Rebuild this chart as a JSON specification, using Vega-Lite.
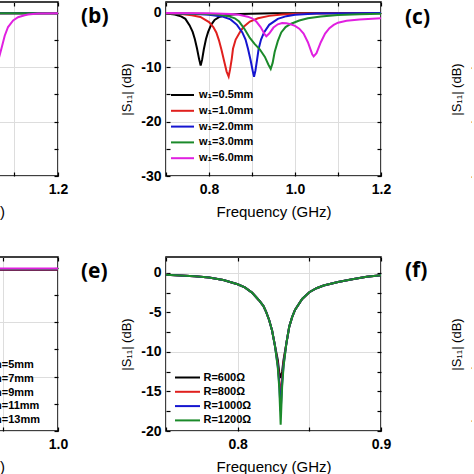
{
"$schema": "https://vega.github.io/schema/vega-lite/v6.json",
"autosize": {"type": "pad"},
"padding": {"left": -175, "top": 0, "right": -38, "bottom": 0},
"background": "white",
"bounds": "flush",
"align": "each",
"center": false,
"columns": 3,
"spacing": {"row": 81, "column": 108},
"resolve": {"scale": {"color": "independent"}, "legend": {"color": "independent"}},
"config": {
  "view": {"stroke": "black", "strokeWidth": 1.5},
  "axis": {"domain": false, "labelFont": "Liberation Sans", "labelFontSize": 14, "labelFontWeight": "bold", "labelColor": "#000", "titleFont": "Liberation Sans", "titleFontWeight": "normal", "titleColor": "#000", "titleFontSize": 15, "tickColor": "#000", "tickWidth": 1.2, "gridColor": "#dddddd", "gridWidth": 1, "labelOverlap": false, "labelFlush": false, "labelBound": false},
  "legend": {"labelFont": "Liberation Sans", "labelFontSize": 11, "labelFontWeight": "bold", "labelColor": "#000", "symbolStrokeWidth": 2, "padding": 0},
  "title": {"font": "Open Sans", "fontSize": 21, "fontWeight": "bold", "color": "#000"}
},
"datasets": {
  "empty": [],
  "a": [
    {"k": "s1", "f": 1.064, "s": -0.05}, {"k": "s1", "f": 1.2, "s": -0.05},
    {"k": "s2", "f": 1.064, "s": -0.05}, {"k": "s2", "f": 1.2, "s": -0.05},
    {"k": "s3", "f": 1.064, "s": -0.05}, {"k": "s3", "f": 1.2, "s": -0.05},
    {"k": "s4", "f": 1.064, "s": -0.05}, {"k": "s4", "f": 1.2, "s": -0.05},
    {"k": "s5", "f": 1.064, "s": -9.2}, {"k": "s5", "f": 1.0725, "s": -6.6}, {"k": "s5", "f": 1.08, "s": -4.2}, {"k": "s5", "f": 1.0875, "s": -2.6}, {"k": "s5", "f": 1.099, "s": -1.4}, {"k": "s5", "f": 1.11, "s": -0.8}, {"k": "s5", "f": 1.125, "s": -0.45}, {"k": "s5", "f": 1.1325, "s": -0.3}, {"k": "s5", "f": 1.155, "s": -0.12}, {"k": "s5", "f": 1.2, "s": -0.05}
  ],
  "b": [
    {"k": "w₁=0.5mm", "f": 0.7, "s": -0.1}, {"k": "w₁=0.5mm", "f": 0.72, "s": -0.3}, {"k": "w₁=0.5mm", "f": 0.735, "s": -0.65}, {"k": "w₁=0.5mm", "f": 0.745, "s": -1.1}, {"k": "w₁=0.5mm", "f": 0.755, "s": -2.3}, {"k": "w₁=0.5mm", "f": 0.762, "s": -3.5}, {"k": "w₁=0.5mm", "f": 0.767, "s": -4.8}, {"k": "w₁=0.5mm", "f": 0.772, "s": -6.5}, {"k": "w₁=0.5mm", "f": 0.777, "s": -8.5}, {"k": "w₁=0.5mm", "f": 0.7806, "s": -9.7}, {"k": "w₁=0.5mm", "f": 0.784, "s": -8.6}, {"k": "w₁=0.5mm", "f": 0.788, "s": -6.7}, {"k": "w₁=0.5mm", "f": 0.793, "s": -4.8}, {"k": "w₁=0.5mm", "f": 0.798, "s": -3.5}, {"k": "w₁=0.5mm", "f": 0.805, "s": -2.2}, {"k": "w₁=0.5mm", "f": 0.813, "s": -1.3}, {"k": "w₁=0.5mm", "f": 0.825, "s": -0.7}, {"k": "w₁=0.5mm", "f": 0.84, "s": -0.4}, {"k": "w₁=0.5mm", "f": 0.87, "s": -0.2}, {"k": "w₁=0.5mm", "f": 0.95, "s": -0.08}, {"k": "w₁=0.5mm", "f": 1.2, "s": 0},
    {"k": "w₁=1.0mm", "f": 0.7, "s": -0.1}, {"k": "w₁=1.0mm", "f": 0.74, "s": -0.25}, {"k": "w₁=1.0mm", "f": 0.76, "s": -0.45}, {"k": "w₁=1.0mm", "f": 0.78, "s": -0.75}, {"k": "w₁=1.0mm", "f": 0.8, "s": -1.7}, {"k": "w₁=1.0mm", "f": 0.81, "s": -2.6}, {"k": "w₁=1.0mm", "f": 0.817, "s": -3.6}, {"k": "w₁=1.0mm", "f": 0.823, "s": -5.0}, {"k": "w₁=1.0mm", "f": 0.829, "s": -6.8}, {"k": "w₁=1.0mm", "f": 0.835, "s": -8.8}, {"k": "w₁=1.0mm", "f": 0.841, "s": -10.8}, {"k": "w₁=1.0mm", "f": 0.8457, "s": -11.7}, {"k": "w₁=1.0mm", "f": 0.849, "s": -10.4}, {"k": "w₁=1.0mm", "f": 0.853, "s": -8.4}, {"k": "w₁=1.0mm", "f": 0.8558, "s": -6.6}, {"k": "w₁=1.0mm", "f": 0.862, "s": -4.9}, {"k": "w₁=1.0mm", "f": 0.8714, "s": -3.6}, {"k": "w₁=1.0mm", "f": 0.88, "s": -2.6}, {"k": "w₁=1.0mm", "f": 0.895, "s": -1.6}, {"k": "w₁=1.0mm", "f": 0.914, "s": -1.0}, {"k": "w₁=1.0mm", "f": 0.94, "s": -0.55}, {"k": "w₁=1.0mm", "f": 0.97, "s": -0.3}, {"k": "w₁=1.0mm", "f": 1.02, "s": -0.12}, {"k": "w₁=1.0mm", "f": 1.2, "s": 0},
    {"k": "w₁=2.0mm", "f": 0.7, "s": -0.05}, {"k": "w₁=2.0mm", "f": 0.76, "s": -0.15}, {"k": "w₁=2.0mm", "f": 0.8, "s": -0.35}, {"k": "w₁=2.0mm", "f": 0.83, "s": -0.65}, {"k": "w₁=2.0mm", "f": 0.85, "s": -1.2}, {"k": "w₁=2.0mm", "f": 0.865, "s": -2.2}, {"k": "w₁=2.0mm", "f": 0.8775, "s": -3.6}, {"k": "w₁=2.0mm", "f": 0.885, "s": -4.9}, {"k": "w₁=2.0mm", "f": 0.8907, "s": -6.6}, {"k": "w₁=2.0mm", "f": 0.897, "s": -8.8}, {"k": "w₁=2.0mm", "f": 0.902, "s": -10.8}, {"k": "w₁=2.0mm", "f": 0.9047, "s": -11.75}, {"k": "w₁=2.0mm", "f": 0.908, "s": -10.6}, {"k": "w₁=2.0mm", "f": 0.912, "s": -8.5}, {"k": "w₁=2.0mm", "f": 0.9155, "s": -6.6}, {"k": "w₁=2.0mm", "f": 0.921, "s": -4.9}, {"k": "w₁=2.0mm", "f": 0.928, "s": -3.6}, {"k": "w₁=2.0mm", "f": 0.94, "s": -2.2}, {"k": "w₁=2.0mm", "f": 0.96, "s": -1.1}, {"k": "w₁=2.0mm", "f": 0.98, "s": -0.6}, {"k": "w₁=2.0mm", "f": 1.0, "s": -0.35}, {"k": "w₁=2.0mm", "f": 1.05, "s": -0.12}, {"k": "w₁=2.0mm", "f": 1.2, "s": 0},
    {"k": "w₁=3.0mm", "f": 0.7, "s": -0.05}, {"k": "w₁=3.0mm", "f": 0.78, "s": -0.15}, {"k": "w₁=3.0mm", "f": 0.82, "s": -0.3}, {"k": "w₁=3.0mm", "f": 0.845, "s": -0.6}, {"k": "w₁=3.0mm", "f": 0.86, "s": -1.0}, {"k": "w₁=3.0mm", "f": 0.87, "s": -1.6}, {"k": "w₁=3.0mm", "f": 0.883, "s": -3.0}, {"k": "w₁=3.0mm", "f": 0.895, "s": -4.6}, {"k": "w₁=3.0mm", "f": 0.906, "s": -5.7}, {"k": "w₁=3.0mm", "f": 0.918, "s": -6.7}, {"k": "w₁=3.0mm", "f": 0.93, "s": -8.1}, {"k": "w₁=3.0mm", "f": 0.938, "s": -9.5}, {"k": "w₁=3.0mm", "f": 0.9435, "s": -10.3}, {"k": "w₁=3.0mm", "f": 0.948, "s": -9.2}, {"k": "w₁=3.0mm", "f": 0.9527, "s": -7.2}, {"k": "w₁=3.0mm", "f": 0.96, "s": -5.2}, {"k": "w₁=3.0mm", "f": 0.968, "s": -3.6}, {"k": "w₁=3.0mm", "f": 0.978, "s": -2.6}, {"k": "w₁=3.0mm", "f": 0.991, "s": -2.0}, {"k": "w₁=3.0mm", "f": 1.01, "s": -1.4}, {"k": "w₁=3.0mm", "f": 1.03, "s": -1.0}, {"k": "w₁=3.0mm", "f": 1.06, "s": -0.65}, {"k": "w₁=3.0mm", "f": 1.1, "s": -0.4}, {"k": "w₁=3.0mm", "f": 1.15, "s": -0.25}, {"k": "w₁=3.0mm", "f": 1.2, "s": -0.15},
    {"k": "w₁=6.0mm", "f": 0.7, "s": -0.02}, {"k": "w₁=6.0mm", "f": 0.8, "s": -0.05}, {"k": "w₁=6.0mm", "f": 0.85, "s": -0.2}, {"k": "w₁=6.0mm", "f": 0.87, "s": -0.35}, {"k": "w₁=6.0mm", "f": 0.89, "s": -0.7}, {"k": "w₁=6.0mm", "f": 0.9, "s": -1.0}, {"k": "w₁=6.0mm", "f": 0.91, "s": -1.6}, {"k": "w₁=6.0mm", "f": 0.92, "s": -2.6}, {"k": "w₁=6.0mm", "f": 0.93, "s": -4.0}, {"k": "w₁=6.0mm", "f": 0.9333, "s": -4.3}, {"k": "w₁=6.0mm", "f": 0.94, "s": -3.8}, {"k": "w₁=6.0mm", "f": 0.95, "s": -2.7}, {"k": "w₁=6.0mm", "f": 0.96, "s": -2.1}, {"k": "w₁=6.0mm", "f": 0.97, "s": -1.85}, {"k": "w₁=6.0mm", "f": 0.98, "s": -1.9}, {"k": "w₁=6.0mm", "f": 0.99, "s": -2.1}, {"k": "w₁=6.0mm", "f": 1.0, "s": -2.4}, {"k": "w₁=6.0mm", "f": 1.01, "s": -2.9}, {"k": "w₁=6.0mm", "f": 1.02, "s": -3.8}, {"k": "w₁=6.0mm", "f": 1.03, "s": -5.4}, {"k": "w₁=6.0mm", "f": 1.04, "s": -7.6}, {"k": "w₁=6.0mm", "f": 1.0434, "s": -8.0}, {"k": "w₁=6.0mm", "f": 1.05, "s": -7.4}, {"k": "w₁=6.0mm", "f": 1.06, "s": -5.4}, {"k": "w₁=6.0mm", "f": 1.07, "s": -3.8}, {"k": "w₁=6.0mm", "f": 1.08, "s": -2.8}, {"k": "w₁=6.0mm", "f": 1.09, "s": -2.2}, {"k": "w₁=6.0mm", "f": 1.1, "s": -1.8}, {"k": "w₁=6.0mm", "f": 1.12, "s": -1.45}, {"k": "w₁=6.0mm", "f": 1.15, "s": -1.2}, {"k": "w₁=6.0mm", "f": 1.2, "s": -1.0}
  ],
  "d": [
    {"k": "n=5mm", "f": 0.88, "s": -0.35}, {"k": "n=5mm", "f": 1.0, "s": -0.35},
    {"k": "n=7mm", "f": 0.88, "s": -0.3}, {"k": "n=7mm", "f": 1.0, "s": -0.3},
    {"k": "n=9mm", "f": 0.88, "s": -0.25}, {"k": "n=9mm", "f": 1.0, "s": -0.25},
    {"k": "n=11mm", "f": 0.88, "s": -0.2}, {"k": "n=11mm", "f": 1.0, "s": -0.2},
    {"k": "n=13mm", "f": 0.88, "s": -0.1}, {"k": "n=13mm", "f": 1.0, "s": -0.1}
  ],
  "e": [
    {"k": "R=600Ω", "f": 0.75, "s": -0.25}, {"k": "R=600Ω", "f": 0.76, "s": -0.33}, {"k": "R=600Ω", "f": 0.77, "s": -0.42}, {"k": "R=600Ω", "f": 0.78, "s": -0.6}, {"k": "R=600Ω", "f": 0.79, "s": -0.9}, {"k": "R=600Ω", "f": 0.8, "s": -1.45}, {"k": "R=600Ω", "f": 0.805, "s": -1.85}, {"k": "R=600Ω", "f": 0.81, "s": -2.5}, {"k": "R=600Ω", "f": 0.815, "s": -3.5}, {"k": "R=600Ω", "f": 0.818, "s": -4.2}, {"k": "R=600Ω", "f": 0.82, "s": -5.0}, {"k": "R=600Ω", "f": 0.822, "s": -6.0}, {"k": "R=600Ω", "f": 0.824, "s": -7.3}, {"k": "R=600Ω", "f": 0.826, "s": -9.2}, {"k": "R=600Ω", "f": 0.828, "s": -11.0}, {"k": "R=600Ω", "f": 0.829, "s": -12.6}, {"k": "R=600Ω", "f": 0.83, "s": -13.3}, {"k": "R=600Ω", "f": 0.831, "s": -12.5}, {"k": "R=600Ω", "f": 0.832, "s": -11.0}, {"k": "R=600Ω", "f": 0.834, "s": -8.9}, {"k": "R=600Ω", "f": 0.836, "s": -6.8}, {"k": "R=600Ω", "f": 0.838, "s": -5.6}, {"k": "R=600Ω", "f": 0.84, "s": -4.7}, {"k": "R=600Ω", "f": 0.845, "s": -3.3}, {"k": "R=600Ω", "f": 0.85, "s": -2.45}, {"k": "R=600Ω", "f": 0.855, "s": -1.95}, {"k": "R=600Ω", "f": 0.86, "s": -1.6}, {"k": "R=600Ω", "f": 0.87, "s": -1.15}, {"k": "R=600Ω", "f": 0.88, "s": -0.8}, {"k": "R=600Ω", "f": 0.89, "s": -0.5}, {"k": "R=600Ω", "f": 0.9, "s": -0.3},
    {"k": "R=800Ω", "f": 0.75, "s": -0.25}, {"k": "R=800Ω", "f": 0.76, "s": -0.33}, {"k": "R=800Ω", "f": 0.77, "s": -0.42}, {"k": "R=800Ω", "f": 0.78, "s": -0.6}, {"k": "R=800Ω", "f": 0.79, "s": -0.9}, {"k": "R=800Ω", "f": 0.8, "s": -1.45}, {"k": "R=800Ω", "f": 0.805, "s": -1.85}, {"k": "R=800Ω", "f": 0.81, "s": -2.5}, {"k": "R=800Ω", "f": 0.815, "s": -3.5}, {"k": "R=800Ω", "f": 0.818, "s": -4.2}, {"k": "R=800Ω", "f": 0.82, "s": -5.0}, {"k": "R=800Ω", "f": 0.822, "s": -6.0}, {"k": "R=800Ω", "f": 0.824, "s": -7.3}, {"k": "R=800Ω", "f": 0.826, "s": -9.2}, {"k": "R=800Ω", "f": 0.828, "s": -11.5}, {"k": "R=800Ω", "f": 0.829, "s": -13.5}, {"k": "R=800Ω", "f": 0.83, "s": -15.5}, {"k": "R=800Ω", "f": 0.831, "s": -13.5}, {"k": "R=800Ω", "f": 0.832, "s": -11.4}, {"k": "R=800Ω", "f": 0.834, "s": -8.9}, {"k": "R=800Ω", "f": 0.836, "s": -6.8}, {"k": "R=800Ω", "f": 0.838, "s": -5.6}, {"k": "R=800Ω", "f": 0.84, "s": -4.7}, {"k": "R=800Ω", "f": 0.845, "s": -3.3}, {"k": "R=800Ω", "f": 0.85, "s": -2.45}, {"k": "R=800Ω", "f": 0.855, "s": -1.95}, {"k": "R=800Ω", "f": 0.86, "s": -1.6}, {"k": "R=800Ω", "f": 0.87, "s": -1.15}, {"k": "R=800Ω", "f": 0.88, "s": -0.8}, {"k": "R=800Ω", "f": 0.89, "s": -0.5}, {"k": "R=800Ω", "f": 0.9, "s": -0.3},
    {"k": "R=1000Ω", "f": 0.75, "s": -0.25}, {"k": "R=1000Ω", "f": 0.76, "s": -0.33}, {"k": "R=1000Ω", "f": 0.77, "s": -0.42}, {"k": "R=1000Ω", "f": 0.78, "s": -0.6}, {"k": "R=1000Ω", "f": 0.79, "s": -0.9}, {"k": "R=1000Ω", "f": 0.8, "s": -1.45}, {"k": "R=1000Ω", "f": 0.805, "s": -1.85}, {"k": "R=1000Ω", "f": 0.81, "s": -2.5}, {"k": "R=1000Ω", "f": 0.815, "s": -3.5}, {"k": "R=1000Ω", "f": 0.818, "s": -4.2}, {"k": "R=1000Ω", "f": 0.82, "s": -5.0}, {"k": "R=1000Ω", "f": 0.822, "s": -6.0}, {"k": "R=1000Ω", "f": 0.824, "s": -7.3}, {"k": "R=1000Ω", "f": 0.826, "s": -9.2}, {"k": "R=1000Ω", "f": 0.828, "s": -11.8}, {"k": "R=1000Ω", "f": 0.829, "s": -14.0}, {"k": "R=1000Ω", "f": 0.83, "s": -17.5}, {"k": "R=1000Ω", "f": 0.831, "s": -14.0}, {"k": "R=1000Ω", "f": 0.832, "s": -11.7}, {"k": "R=1000Ω", "f": 0.834, "s": -8.9}, {"k": "R=1000Ω", "f": 0.836, "s": -6.8}, {"k": "R=1000Ω", "f": 0.838, "s": -5.6}, {"k": "R=1000Ω", "f": 0.84, "s": -4.7}, {"k": "R=1000Ω", "f": 0.845, "s": -3.3}, {"k": "R=1000Ω", "f": 0.85, "s": -2.45}, {"k": "R=1000Ω", "f": 0.855, "s": -1.95}, {"k": "R=1000Ω", "f": 0.86, "s": -1.6}, {"k": "R=1000Ω", "f": 0.87, "s": -1.15}, {"k": "R=1000Ω", "f": 0.88, "s": -0.8}, {"k": "R=1000Ω", "f": 0.89, "s": -0.5}, {"k": "R=1000Ω", "f": 0.9, "s": -0.3},
    {"k": "R=1200Ω", "f": 0.75, "s": -0.25}, {"k": "R=1200Ω", "f": 0.76, "s": -0.33}, {"k": "R=1200Ω", "f": 0.77, "s": -0.42}, {"k": "R=1200Ω", "f": 0.78, "s": -0.6}, {"k": "R=1200Ω", "f": 0.79, "s": -0.9}, {"k": "R=1200Ω", "f": 0.8, "s": -1.45}, {"k": "R=1200Ω", "f": 0.805, "s": -1.85}, {"k": "R=1200Ω", "f": 0.81, "s": -2.5}, {"k": "R=1200Ω", "f": 0.815, "s": -3.5}, {"k": "R=1200Ω", "f": 0.818, "s": -4.2}, {"k": "R=1200Ω", "f": 0.82, "s": -5.0}, {"k": "R=1200Ω", "f": 0.822, "s": -6.0}, {"k": "R=1200Ω", "f": 0.824, "s": -7.3}, {"k": "R=1200Ω", "f": 0.826, "s": -9.2}, {"k": "R=1200Ω", "f": 0.828, "s": -12.0}, {"k": "R=1200Ω", "f": 0.829, "s": -14.5}, {"k": "R=1200Ω", "f": 0.83, "s": -19.2}, {"k": "R=1200Ω", "f": 0.831, "s": -14.5}, {"k": "R=1200Ω", "f": 0.832, "s": -11.9}, {"k": "R=1200Ω", "f": 0.834, "s": -8.9}, {"k": "R=1200Ω", "f": 0.836, "s": -6.8}, {"k": "R=1200Ω", "f": 0.838, "s": -5.6}, {"k": "R=1200Ω", "f": 0.84, "s": -4.7}, {"k": "R=1200Ω", "f": 0.845, "s": -3.3}, {"k": "R=1200Ω", "f": 0.85, "s": -2.45}, {"k": "R=1200Ω", "f": 0.855, "s": -1.95}, {"k": "R=1200Ω", "f": 0.86, "s": -1.6}, {"k": "R=1200Ω", "f": 0.87, "s": -1.15}, {"k": "R=1200Ω", "f": 0.88, "s": -0.8}, {"k": "R=1200Ω", "f": 0.89, "s": -0.5}, {"k": "R=1200Ω", "f": 0.9, "s": -0.3}
  ]
},
"concat": [
  {
    "width": 222, "height": 174,
    "resolve": {"axis": {"x": "independent", "y": "independent"}},
    "layer": [
      {"data": {"name": "a"}, "mark": {"type": "line", "strokeWidth": 2, "clip": true},
       "encoding": {
         "x": {"field": "f", "type": "quantitative", "scale": {"domain": [0.7, 1.2], "nice": false, "zero": false},
               "axis": {"orient": "bottom", "values": [0.7, 0.8, 0.9, 1.0, 1.1, 1.2], "ticks": false, "grid": true, "labelExpr": "indexof([0.8, 1, 1.2], datum.value) >= 0 ? format(datum.value, '.1f') : ''", "labelPadding": 6, "title": "Frequency (GHz)", "titlePadding": 8}},
         "y": {"field": "s", "type": "quantitative", "scale": {"domain": [-30, 2], "nice": false, "zero": false},
               "axis": {"orient": "left", "values": [0, -10, -20, -30], "ticks": false, "grid": true, "labels": false, "title": null}},
         "color": {"field": "k", "type": "nominal", "scale": {"domain": ["s1", "s2", "s3", "s4", "s5"], "range": ["#000000", "#e0201e", "#1515d0", "#1b8a2a", "#e020e0"]}, "legend": null}
       }},
      {"data": {"name": "empty"}, "mark": "line",
       "encoding": {
         "x": {"field": "f", "type": "quantitative", "axis": {"orient": "top", "values": [0.7, 0.8, 0.9, 1.0, 1.1, 1.2], "labels": false, "ticks": true, "tickSize": -4, "grid": false, "title": null}},
         "y": {"field": "s", "type": "quantitative", "axis": {"orient": "right", "values": [0, -5, -10, -15, -20, -25, -30], "labels": false, "ticks": true, "tickSize": -4, "grid": false, "title": null}}
       }},
      {"data": {"name": "empty"}, "mark": "line",
       "encoding": {
         "x": {"field": "f", "type": "quantitative", "axis": {"orient": "bottom", "values": [0.7, 0.8, 0.9, 1.0, 1.1, 1.2], "labels": false, "ticks": true, "tickSize": -4, "grid": false, "title": null}},
         "y": {"field": "s", "type": "quantitative", "axis": {"orient": "left", "values": [0, -5, -10, -15, -20, -25, -30], "labels": false, "ticks": true, "tickSize": -4, "grid": false, "title": null}}
       }}
    ]
  },
  {
    "width": 215, "height": 174,
    "title": {"text": "(b)", "anchor": "start", "frame": "group", "orient": "top", "offset": 0, "baseline": "top", "dx": -85, "dy": 26},
    "resolve": {"axis": {"x": "independent", "y": "independent"}},
    "layer": [
      {"data": {"name": "b"}, "mark": {"type": "line", "strokeWidth": 2, "clip": true},
       "encoding": {
         "x": {"field": "f", "type": "quantitative", "scale": {"domain": [0.7, 1.2], "nice": false, "zero": false},
               "axis": {"orient": "bottom", "values": [0.7, 0.8, 0.9, 1.0, 1.1, 1.2], "ticks": false, "grid": true, "labelExpr": "indexof([0.8, 1, 1.2], datum.value) >= 0 ? format(datum.value, '.1f') : ''", "labelPadding": 6, "title": "Frequency (GHz)", "titlePadding": 8}},
         "y": {"field": "s", "type": "quantitative", "scale": {"domain": [-30, 2], "nice": false, "zero": false},
               "axis": {"orient": "left", "values": [0, -10, -20, -30], "ticks": false, "grid": true, "labelExpr": "datum.value == 0 ? '0' : '-' + abs(datum.value)", "labelPadding": 5, "title": "|S₁₁| (dB)", "titleFontSize": 13, "titlePadding": 7}},
         "color": {"field": "k", "type": "nominal", "scale": {"domain": ["w₁=0.5mm", "w₁=1.0mm", "w₁=2.0mm", "w₁=3.0mm", "w₁=6.0mm"], "range": ["#000000", "#e0201e", "#1515d0", "#1b8a2a", "#e020e0"]},
                   "legend": {"title": null, "orient": "none", "legendX": 10.5, "legendY": 87, "direction": "vertical", "symbolType": "M-2.3,0H2.3", "symbolSize": 100, "labelOffset": 10.5, "rowPadding": 4.8}}
       }},
      {"data": {"name": "empty"}, "mark": "line",
       "encoding": {
         "x": {"field": "f", "type": "quantitative", "axis": {"orient": "top", "values": [0.7, 0.8, 0.9, 1.0, 1.1, 1.2], "labels": false, "ticks": true, "tickSize": -4, "grid": false, "title": null}},
         "y": {"field": "s", "type": "quantitative", "axis": {"orient": "right", "values": [0, -5, -10, -15, -20, -25, -30], "labels": false, "ticks": true, "tickSize": -4, "grid": false, "title": null}}
       }},
      {"data": {"name": "empty"}, "mark": "line",
       "encoding": {
         "x": {"field": "f", "type": "quantitative", "axis": {"orient": "bottom", "values": [0.7, 0.8, 0.9, 1.0, 1.1, 1.2], "labels": false, "ticks": true, "tickSize": -4, "grid": false, "title": null}},
         "y": {"field": "s", "type": "quantitative", "axis": {"orient": "left", "values": [0, -5, -10, -15, -20, -25, -30], "labels": false, "ticks": true, "tickSize": -4, "grid": false, "title": null}}
       }}
    ]
  },
  {
    "width": 20, "height": 174,
    "title": {"text": "(c)", "anchor": "start", "frame": "group", "orient": "top", "offset": 0, "baseline": "top", "dx": -84, "dy": 26},
    "data": {"name": "empty"},
    "mark": "line",
    "encoding": {
      "x": {"field": "f", "type": "quantitative", "scale": {"domain": [0.7, 1.2], "nice": false, "zero": false}, "axis": null},
      "y": {"field": "s", "type": "quantitative", "scale": {"domain": [-30, 2], "nice": false, "zero": false},
            "axis": {"orient": "left", "offset": -7, "values": [0, -10, -20, -30], "ticks": false, "grid": false, "labelExpr": "datum.value == 0 ? '0' : '-' + abs(datum.value)", "labelPadding": 5, "title": "|S₁₁| (dB)", "titleFontSize": 13, "titlePadding": 7}}
    }
  },
  {
    "width": 222, "height": 174,
    "resolve": {"axis": {"x": "independent", "y": "independent"}},
    "layer": [
      {"data": {"name": "d"}, "mark": {"type": "line", "strokeWidth": 2, "clip": true},
       "encoding": {
         "x": {"field": "f", "type": "quantitative", "scale": {"domain": [0.6, 1.0], "nice": false, "zero": false},
               "axis": {"orient": "bottom", "values": [0.6, 0.7, 0.8, 0.9, 1.0], "ticks": false, "grid": true, "labelExpr": "indexof([0.6, 0.8, 1], datum.value) >= 0 ? format(datum.value, '.1f') : ''", "labelPadding": 6, "title": "Frequency (GHz)", "titlePadding": 8}},
         "y": {"field": "s", "type": "quantitative", "scale": {"domain": [-30, 2], "nice": false, "zero": false},
               "axis": {"orient": "left", "values": [0, -10, -20, -30], "ticks": false, "grid": true, "labels": false, "title": null}},
         "color": {"field": "k", "type": "nominal", "scale": {"domain": ["n=5mm", "n=7mm", "n=9mm", "n=11mm", "n=13mm"], "range": ["#000000", "#e0201e", "#1515d0", "#1b8a2a", "#e020e0"]},
                   "legend": {"title": null, "orient": "none", "legendX": 137, "legendY": 102, "direction": "vertical", "symbolType": "M-2.3,0H2.3", "symbolSize": 100, "labelOffset": 10, "rowPadding": 2.8}}
       }},
      {"data": {"name": "empty"}, "mark": "line",
       "encoding": {
         "x": {"field": "f", "type": "quantitative", "axis": {"orient": "top", "values": [0.6, 0.7, 0.8, 0.9, 1.0], "labels": false, "ticks": true, "tickSize": -4, "grid": false, "title": null}},
         "y": {"field": "s", "type": "quantitative", "axis": {"orient": "right", "values": [0, -5, -10, -15, -20, -25, -30], "labels": false, "ticks": true, "tickSize": -4, "grid": false, "title": null}}
       }},
      {"data": {"name": "empty"}, "mark": "line",
       "encoding": {
         "x": {"field": "f", "type": "quantitative", "axis": {"orient": "bottom", "values": [0.6, 0.7, 0.8, 0.9, 1.0], "labels": false, "ticks": true, "tickSize": -4, "grid": false, "title": null}},
         "y": {"field": "s", "type": "quantitative", "axis": {"orient": "left", "values": [0, -5, -10, -15, -20, -25, -30], "labels": false, "ticks": true, "tickSize": -4, "grid": false, "title": null}}
       }}
    ]
  },
  {
    "width": 215, "height": 174,
    "title": {"text": "(e)", "anchor": "start", "frame": "group", "orient": "top", "offset": 0, "baseline": "top", "dx": -85, "dy": 26},
    "resolve": {"axis": {"x": "independent", "y": "independent"}},
    "layer": [
      {"data": {"name": "e"}, "mark": {"type": "line", "strokeWidth": 2, "clip": true},
       "encoding": {
         "x": {"field": "f", "type": "quantitative", "scale": {"domain": [0.75, 0.9], "nice": false, "zero": false},
               "axis": {"orient": "bottom", "values": [0.75, 0.8, 0.85, 0.9], "ticks": false, "grid": true, "labelExpr": "indexof([0.8, 0.9], datum.value) >= 0 ? format(datum.value, '.1f') : ''", "labelPadding": 6, "title": "Frequency (GHz)", "titlePadding": 8}},
         "y": {"field": "s", "type": "quantitative", "scale": {"domain": [-20, 2], "nice": false, "zero": false},
               "axis": {"orient": "left", "values": [0, -5, -10, -15, -20], "ticks": false, "grid": true, "gridOpacity": {"condition": {"test": "datum.value % 10 == 0", "value": 1}, "value": 0}, "labelExpr": "datum.value == 0 ? '0' : '-' + abs(datum.value)", "labelPadding": 5, "title": "|S₁₁| (dB)", "titleFontSize": 13, "titlePadding": 7}},
         "color": {"field": "k", "type": "nominal", "scale": {"domain": ["R=600Ω", "R=800Ω", "R=1000Ω", "R=1200Ω"], "range": ["#000000", "#e0201e", "#1515d0", "#1b8a2a"]},
                   "legend": {"title": null, "orient": "none", "legendX": 15.5, "legendY": 114.5, "direction": "vertical", "symbolType": "M-2.5,0H2.5", "symbolSize": 100, "labelOffset": 10, "rowPadding": 3.3}}
       }},
      {"data": {"name": "empty"}, "mark": "line",
       "encoding": {
         "x": {"field": "f", "type": "quantitative", "axis": {"orient": "top", "values": [0.75, 0.8, 0.85, 0.9], "labels": false, "ticks": true, "tickSize": -4, "grid": false, "title": null}},
         "y": {"field": "s", "type": "quantitative", "axis": {"orient": "right", "values": [0, -2.5, -5, -7.5, -10, -12.5, -15, -17.5, -20], "labels": false, "ticks": true, "tickSize": -4, "grid": false, "title": null}}
       }},
      {"data": {"name": "empty"}, "mark": "line",
       "encoding": {
         "x": {"field": "f", "type": "quantitative", "axis": {"orient": "bottom", "values": [0.75, 0.8, 0.85, 0.9], "labels": false, "ticks": true, "tickSize": -4, "grid": false, "title": null}},
         "y": {"field": "s", "type": "quantitative", "axis": {"orient": "left", "values": [0, -2.5, -5, -7.5, -10, -12.5, -15, -17.5, -20], "labels": false, "ticks": true, "tickSize": -4, "grid": false, "title": null}}
       }}
    ]
  },
  {
    "width": 20, "height": 174,
    "title": {"text": "(f)", "anchor": "start", "frame": "group", "orient": "top", "offset": 0, "baseline": "top", "dx": -84, "dy": 26},
    "data": {"name": "empty"},
    "mark": "line",
    "encoding": {
      "x": {"field": "f", "type": "quantitative", "scale": {"domain": [0.7, 1.2], "nice": false, "zero": false}, "axis": null},
      "y": {"field": "s", "type": "quantitative", "scale": {"domain": [-16, 0.5], "nice": false, "zero": false},
            "axis": {"orient": "left", "offset": -7, "values": [0, -5, -10, -15], "ticks": false, "grid": false, "labelExpr": "datum.value == 0 ? '0' : '-' + abs(datum.value)", "labelPadding": 5, "title": "|S₁₁| (dB)", "titleFontSize": 13, "titlePadding": 7}}
    }
  }
]
}
